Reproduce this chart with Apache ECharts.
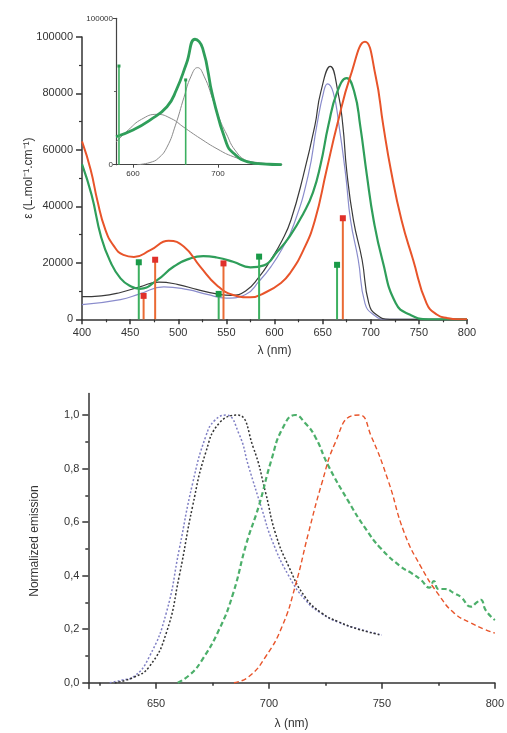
<!DOCTYPE html>
<html><head><meta charset="utf-8">
<script src="https://cdn.jsdelivr.net/npm/echarts@6/dist/echarts.min.js"></script>
<style>html,body{margin:0;padding:0;background:#fff}#c{width:507px;height:733px}</style>
</head><body><div id="c"></div>
<script>
// ---------- Absorption (top chart) ----------
const absTicksX = [400, 450, 500, 550, 600, 650, 700, 750, 800];
const absTicksY = [0, 20000, 40000, 60000, 80000, 100000];

const blackAbsX = [400,420,440,460,480,500,520,540,555,570,584,596,608,617,630,642,648,658,666,671,675,682,691,698,706,720,800];
const blackAbsY = [8000,8300,9500,11500,13200,12300,10500,9000,8500,10000,15000,21000,28000,35100,51000,68700,80400,89600,80400,68700,52700,35100,21100,5650,1600,0,0];

const blueAbsX = [400,440,460,485,510,530,550,570,584,596,608,620,635,644,651,655,661,667,674,679,687,694,703,715,800];
const blueAbsY = [5200,7000,9000,11500,10500,8800,7500,8800,13500,18500,25000,33500,51000,68700,80400,83400,80400,68700,51000,35100,21100,5650,1600,0,0];

const greenAbsX = [400,410,420,430,440,450,460,478,495,512,526,540,557,575,589,603,616,630,640,648,656,665,675,683,689,696,703,712,726,741,760,800];
const greenAbsY = [55000,44000,29000,20000,14500,11800,10800,13900,18600,21500,22400,21900,20400,18400,19100,24000,29500,37500,45000,55000,68700,80400,85400,80400,68700,51000,35100,21100,5650,1600,0,0];

const redAbsX = [400,409,416,424,433,443,454,471,490,506,523,540,557,575,592,606,616,630,642,654,665,679,694,705,713,721,732,744,758,769,780,790,800];
const redAbsY = [63000,53000,42000,32000,26000,22800,22100,24500,27800,25700,18600,12100,8600,7770,9750,12700,16250,24500,35100,52700,68700,86300,98300,86300,68700,52700,35100,21100,5650,1600,400,0,0];

// calculated transitions (sticks)
const greenStickX = [459, 542, 584, 665];
const greenStickY = [20200, 9000, 22200, 19300];
const redStickX = [464, 476, 547, 671];
const redStickY = [8300, 21100, 19800, 35800];

// ---------- Inset ----------
const insetGreenX = [580,600,620,640,651,663,673,682,694,710,718,735,760,775];
const insetGreenY = [19100,23700,30500,39600,51000,69300,85700,79500,46400,14600,8000,2000,300,0];
const insetNarrowX = [605,620,630,640,650,660,668,676,684,694,702,710,720,734,750,775];
const insetNarrowY = [0,1500,4500,12000,27000,46000,60000,66300,60000,44500,31000,21000,10000,2500,200,0];
const insetBroadX = [580,595,610,628,645,660,679,700,718,740,775];
const insetBroadY = [15500,24000,31000,34400,31500,25500,18000,10500,5500,2000,300];
const insetStickX = [583.5, 662];
const insetStickY = [67400, 57900];

// ---------- Emission (bottom chart) ----------
const emTickX = [650, 700, 750, 800];
const emMinorX = [625, 675, 725, 775];
const emTickY = [0, 0.2, 0.4, 0.6, 0.8, 1.0];
const emMinorY = [0.1, 0.3, 0.5, 0.7, 0.9];

const blueEmX = [629.5,635,640,647,654.5,660.3,666.2,672,676,681,686.7,691,697,701.3,708.7,716,723,731,740,750];
const blueEmY = [0,0.01,0.022,0.097,0.26,0.50,0.745,0.92,0.98,1.0,0.93,0.807,0.645,0.533,0.40,0.31,0.26,0.225,0.20,0.178];

const blackEmX = [631.7,640,647,654.5,660.3,666.2,672,678,686,693,698.5,702.8,708.7,716,723.4,730.7,739.5,749.7];
const blackEmY = [0,0.02,0.06,0.185,0.40,0.66,0.86,0.97,1.0,0.88,0.71,0.56,0.435,0.32,0.26,0.228,0.20,0.178];

const greenEmX = [659.6,665,670,678,684,690,695.5,701,706,711.6,716,720.4,726.3,735,742.4,749.7,758.5,763,767.3,771,773,775,778,782,785,789.4,792,793.8,796,800];
const greenEmY = [0,0.03,0.08,0.2,0.33,0.52,0.66,0.83,0.95,1.0,0.97,0.92,0.81,0.68,0.58,0.50,0.433,0.41,0.384,0.355,0.38,0.35,0.35,0.334,0.32,0.284,0.30,0.31,0.27,0.234];

const redEmX = [684.5,691,698.5,705.8,711.6,717.5,723.4,729.2,736.6,740.2,745.3,752.7,760,767.3,774.7,782,789.4,795.3,800];
const redEmY = [0,0.022,0.097,0.21,0.36,0.56,0.745,0.894,0.997,1.0,0.92,0.757,0.558,0.433,0.334,0.26,0.223,0.20,0.185];

// ---------- build ----------
const zip = (xs, ys) => xs.map((x, i) => [x, ys[i]]);
const TXT = '#333';
const FONT = 'Liberation Sans, Arial, sans-serif';
const AX = { lineStyle: { color: '#333', width: 1.5 } };

const RED = '#e8542a', GREEN = '#2f9e5a', BLACK = '#3a3a3a', BLUE = '#8a8ccc';

function stickSeries(xs, ys, lineColor, markColor, xi, yi, lw, ms) {
  return {
    type: 'custom', xAxisIndex: xi, yAxisIndex: yi, z: 5,
    data: zip(xs, ys),
    renderItem: function (params, api) {
      const x = api.value(0), y = api.value(1);
      const p0 = api.coord([x, 0]);
      const p1 = api.coord([x, y]);
      const children = [{
        type: 'line',
        shape: { x1: p0[0], y1: p0[1], x2: p1[0], y2: p1[1] },
        style: { stroke: lineColor, lineWidth: lw }
      }];
      if (ms > 0) children.push({
        type: 'rect',
        shape: { x: p1[0] - ms / 2, y: p1[1] - ms / 2, width: ms, height: ms },
        style: { fill: markColor }
      });
      return { type: 'group', children: children };
    }
  };
}

function lineSeries(xs, ys, color, width, xi, yi, type) {
  return {
    type: 'line', xAxisIndex: xi, yAxisIndex: yi, data: zip(xs, ys),
    showSymbol: false, symbol: 'none', smooth: 0.5,
    lineStyle: { color: color, width: width, type: type || 'solid' },
    silent: true
  };
}

const chart = echarts.init(document.getElementById('c'));
chart.setOption({
  animation: false,
  backgroundColor: '#fff',
  textStyle: { fontFamily: FONT, color: TXT },
  grid: [
    { left: 82, top: 37, width: 385, height: 282.3 },
    { left: 88.3, top: 393.6, width: 408.4, height: 295 },
    { left: 116, top: 18.3, width: 165.7, height: 146.4 }
  ],
  xAxis: [
    { gridIndex: 0, type: 'value', min: absTicksX[0], max: absTicksX[absTicksX.length - 1], interval: 50,
      axisLine: AX, axisTick: { length: 5, lineStyle: AX.lineStyle },
      minorTick: { show: true, splitNumber: 2, length: 3, lineStyle: { color: '#333', width: 1.2 } },
      splitLine: { show: false },
      axisLabel: { fontSize: 11, color: TXT, margin: 8, fontFamily: FONT },
      name: 'λ (nm)', nameLocation: 'middle', nameGap: 25, nameMoveOverlap: false,
      nameTextStyle: { fontSize: 12, color: TXT, fontFamily: FONT } },
    { gridIndex: 1, type: 'value', min: 620, max: 800, position: 'bottom',
      axisLine: AX, axisTick: { length: 6, lineStyle: AX.lineStyle, customValues: emTickX },
      splitLine: { show: false },
      axisLabel: { fontSize: 11, color: TXT, margin: 10, fontFamily: FONT, customValues: emTickX },
      name: 'λ (nm)', nameLocation: 'middle', nameGap: 29, nameMoveOverlap: false,
      nameTextStyle: { fontSize: 12, color: TXT, fontFamily: FONT } },
    { gridIndex: 2, type: 'value', min: 580, max: 775, position: 'bottom',
      axisLine: { lineStyle: { color: '#444', width: 1.2 } },
      axisTick: { length: 3, lineStyle: { color: '#444' }, customValues: [600, 700] },
      splitLine: { show: false },
      axisLabel: { fontSize: 8, color: TXT, margin: 5, fontFamily: FONT, customValues: [600, 700] } },
    { gridIndex: 1, type: 'value', min: 620, max: 800, position: 'bottom',
      axisLine: { show: false },
      axisTick: { length: 3, lineStyle: AX.lineStyle, customValues: emMinorX },
      splitLine: { show: false }, axisLabel: { show: false } }
  ],
  yAxis: [
    { gridIndex: 0, type: 'value', min: absTicksY[0], max: absTicksY[absTicksY.length - 1], interval: 20000,
      axisLine: { show: true, lineStyle: AX.lineStyle }, axisTick: { show: true, length: 6, lineStyle: AX.lineStyle },
      minorTick: { show: true, splitNumber: 2, length: 3, lineStyle: { color: '#333', width: 1.2 } },
      splitLine: { show: false },
      axisLabel: { fontSize: 11, color: TXT, margin: 9, fontFamily: FONT, formatter: v => String(v) },
      name: 'ε (L.mol⁻¹.cm⁻¹)', nameLocation: 'middle', nameGap: 47, nameRotate: 90, nameMoveOverlap: false,
      nameTextStyle: { fontSize: 12, color: TXT, fontFamily: FONT } },
    { gridIndex: 1, type: 'value', min: -0.022, max: 1.08, position: 'left',
      axisLine: { show: true, lineStyle: AX.lineStyle },
      axisTick: { show: true, length: 6, lineStyle: AX.lineStyle, customValues: emTickY },
      splitLine: { show: false },
      axisLabel: { fontSize: 11, color: TXT, margin: 9, fontFamily: FONT, customValues: emTickY,
        formatter: v => v.toFixed(1).replace('.', ',') },
      name: 'Normalized emission', nameLocation: 'middle', nameGap: 48, nameRotate: 90, nameMoveOverlap: false,
      nameTextStyle: { fontSize: 12, color: TXT, fontFamily: FONT } },
    { gridIndex: 2, type: 'value', min: 0, max: 100000, interval: 100000, position: 'left',
      axisLine: { show: true, lineStyle: { color: '#444', width: 1.2 } },
      axisTick: { show: true, length: 3, lineStyle: { color: '#444' } },
      minorTick: { show: true, splitNumber: 2, length: 2, lineStyle: { color: '#666' } },
      splitLine: { show: false },
      axisLabel: { fontSize: 8, color: TXT, margin: 3, fontFamily: FONT, formatter: v => String(v) } },
    { gridIndex: 1, type: 'value', min: -0.022, max: 1.08, position: 'left',
      axisLine: { show: false },
      axisTick: { show: true, length: 3, lineStyle: AX.lineStyle, customValues: emMinorY },
      splitLine: { show: false }, axisLabel: { show: false } }
  ],
  series: [
    lineSeries(blueAbsX, blueAbsY, BLUE, 1.2, 0, 0),
    lineSeries(blackAbsX, blackAbsY, BLACK, 1.2, 0, 0),
    lineSeries(greenAbsX, greenAbsY, GREEN, 2.2, 0, 0),
    lineSeries(redAbsX, redAbsY, RED, 2, 0, 0),
    stickSeries(greenStickX, greenStickY, '#3cb060', '#1a9a48', 0, 0, 2, 6),
    stickSeries(redStickX, redStickY, '#ea6a34', '#e0302a', 0, 0, 2, 6),
    lineSeries(insetBroadX, insetBroadY, '#8a8a8a', 1, 2, 2),
    lineSeries(insetNarrowX, insetNarrowY, '#8a8a8a', 1, 2, 2),
    stickSeries(insetStickX, insetStickY, '#3cb060', '#2a9a50', 2, 2, 1.6, 3),
    lineSeries(insetGreenX, insetGreenY, GREEN, 2.8, 2, 2),
    lineSeries(blueEmX, blueEmY, '#7f7fc4', 1.5, 1, 1, [2, 2]),
    lineSeries(blackEmX, blackEmY, '#333', 1.5, 1, 1, [2, 2]),
    lineSeries(greenEmX, greenEmY, '#4caf6a', 2.2, 1, 1, [5, 3]),
    lineSeries(redEmX, redEmY, RED, 1.4, 1, 1, [5, 3])
  ]
});
</script></body></html>
